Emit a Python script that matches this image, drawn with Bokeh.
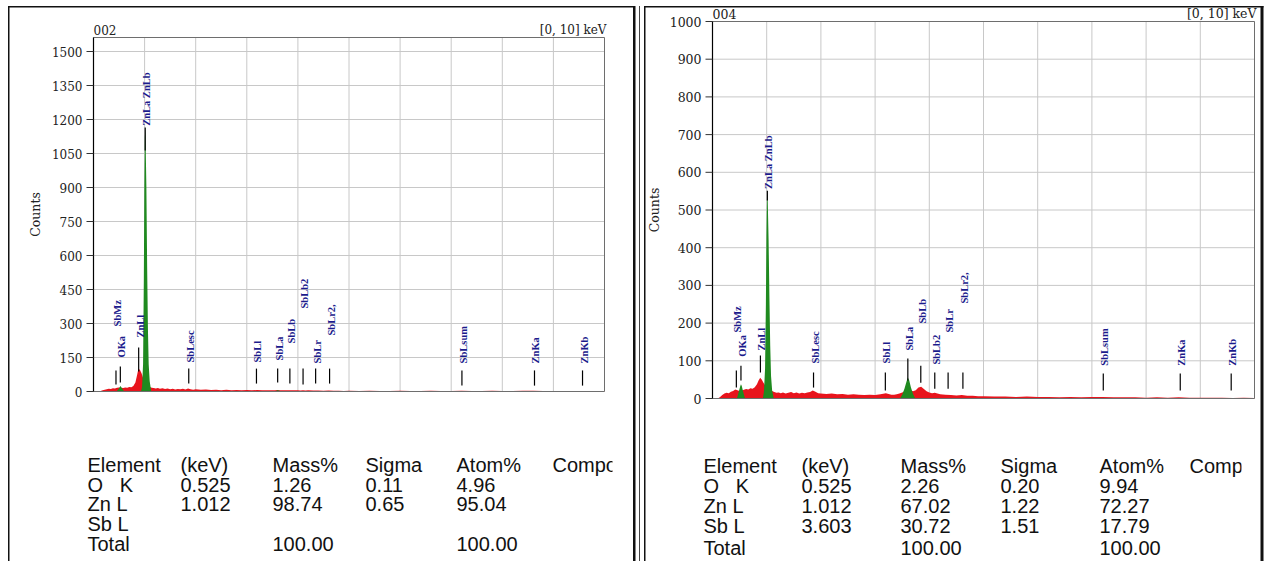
from math import pi

from bokeh.plotting import figure
from bokeh.layouts import row
from bokeh.models import Range1d
from bokeh.core.properties import value
from bokeh.embed import file_html
from bokeh.resources import INLINE

# ---------------------------------------------------------------- spectra
# energy channels (keV) shared by both spectra
energy_kev = [
    0.10, 0.14, 0.18, 0.22, 0.26, 0.30, 0.34, 0.38, 0.42, 0.46,
    0.50, 0.54, 0.58, 0.62, 0.66, 0.70, 0.74, 0.78, 0.82,
    0.85, 0.88, 0.91, 0.94, 0.97, 1.00, 1.03, 1.06,
    1.10, 1.14, 1.18, 1.22, 1.26, 1.30,
    1.35, 1.40, 1.45, 1.50, 1.55, 1.60, 1.65, 1.70, 1.75, 1.80, 1.85, 1.90, 1.95, 2.00,
    2.1, 2.2, 2.3, 2.4, 2.5, 2.6, 2.7, 2.8, 2.9, 3.0, 3.1, 3.2, 3.3,
    3.35, 3.40, 3.45, 3.50, 3.55, 3.60, 3.65, 3.70, 3.75, 3.80, 3.85, 3.90, 3.95,
    4.00, 4.05, 4.10, 4.15, 4.20,
    4.3, 4.4, 4.5, 4.6, 4.7, 4.8, 4.9, 5.0,
    5.2, 5.4, 5.6, 5.8, 6.0, 6.2, 6.4, 6.6, 6.8, 7.0,
    7.2, 7.4, 7.6, 7.8, 8.0, 8.2, 8.4, 8.6, 8.8, 9.0,
    9.2, 9.4, 9.6, 9.8, 10.0,
]

# sample 002: measured counts
counts_002 = [
    0, 2, 5, 8, 10, 12, 11, 14, 13, 16,
    18, 17, 15, 18, 16, 20, 19, 24, 40,
    70, 102, 95, 80, 60, 45, 35, 28,
    20, 16, 15, 13, 15, 12,
    14, 11, 13, 10, 12, 9, 11, 10, 12, 9, 13, 10, 8, 10,
    8, 9, 7, 8, 6, 8, 6, 7, 5, 7, 5, 7, 5,
    6, 5, 6, 5, 6, 7, 6, 6, 5, 6, 6, 5, 5,
    5, 4, 5, 4, 5,
    4, 4, 3, 4, 3, 3, 2, 3,
    2, 3, 2, 2, 3, 2, 2, 3, 2, 2,
    3, 2, 2, 3, 2, 2, 3, 3, 2, 2,
    1, 2, 2, 1, 1,
]

# sample 004: measured counts
counts_004 = [
    0, 4, 9, 13, 15, 14, 18, 20, 24, 22,
    20, 21, 23, 25, 24, 27, 26, 30, 38,
    48, 55, 50, 42, 35, 30, 27, 24,
    20, 17, 15, 16, 14, 16,
    13, 15, 17, 14, 16, 13, 15, 14, 16, 17, 21, 18, 14, 13,
    12, 13, 11, 12, 10, 11, 10, 9, 10, 9, 11, 14, 10,
    10, 11, 13, 16, 20, 24, 22, 19, 22, 29, 31, 25, 19,
    16, 14, 15, 13, 11,
    10, 9, 8, 9, 7, 7, 6, 6,
    5, 5, 4, 5, 4, 4, 3, 4, 3, 4,
    4, 3, 3, 3, 2, 3, 2, 3, 2, 2,
    2, 2, 1, 2, 1,
]

# identified element peaks
ok_energy = [0.45, 0.48, 0.51, 0.525, 0.54, 0.57, 0.60]
zn_energy = [0.93, 0.95, 0.97, 0.985, 0.995, 1.005, 1.012, 1.02,
             1.035, 1.05, 1.065, 1.08, 1.10, 1.13]
ok_peak_002 = [0, 8, 18, 24, 20, 10, 0]
zn_peak_002 = [0, 20, 120, 500, 900, 1120, 1165, 1100, 900, 550, 280, 120, 45, 0]
sb_energy_002 = [3.54, 3.58, 3.604, 3.64, 3.68]
sb_peak_002 = [0, 3, 5, 3, 0]

ok_peak_004 = [0, 15, 32, 38, 33, 15, 0]
zn_peak_004 = [0, 20, 80, 250, 430, 530, 552, 520, 420, 270, 140, 60, 22, 0]
sb_energy_004 = [3.46, 3.50, 3.54, 3.58, 3.604, 3.63, 3.66, 3.70, 3.74]
sb_peak_004 = [0, 10, 25, 45, 56, 48, 30, 12, 0]

# X-ray line markers
line_names = ["SbMz", "OKa", "ZnLl", "ZnLa ZnLb", "SbLesc", "SbLl", "SbLa",
              "SbLb", "SbLb2", "SbLr", "SbLr2,", "SbLsum", "ZnKa", "ZnKb"]
line_energy = [0.44, 0.525, 0.884, 1.012, 1.864, 3.189, 3.604,
               3.843, 4.101, 4.347, 4.62, 7.21, 8.63, 9.57]

# marker stems and label starts, in counts
stem_lo_002 = [31, 40, 88, 1063, 35, 35, 40, 35, 31, 35, 35, 26, 26, 26]
stem_hi_002 = [93, 110, 194, 1165, 101, 101, 101, 101, 101, 101, 101, 93, 93, 93]
label_at_002 = [287, 150, 238, 1172, 128, 128, 137, 212, 366, 124, 247, 124, 124, 124]

stem_lo_004 = [29, 48, 69, 525, 29, 21, 48, 42, 26, 26, 26, 21, 21, 21]
stem_hi_004 = [74, 87, 114, 551, 69, 69, 106, 87, 69, 69, 69, 66, 66, 66]
label_at_004 = [175, 111, 127, 556, 93, 93, 127, 199, 90, 175, 252, 87, 87, 87]

# axes
kev_ticks = [0, 1, 2, 3, 4, 5, 6, 7, 8, 9, 10]
count_ticks_002 = [0, 150, 300, 450, 600, 750, 900, 1050, 1200, 1350, 1500]
count_ticks_004 = [0, 100, 200, 300, 400, 500, 600, 700, 800, 900, 1000]

# quantification tables
table_header = ["Element", "(keV)", "Mass%", "Sigma", "Atom%", "Compo"]
elements = ["O\u00a0\u00a0 K", "Zn L", "Sb L", "Total"]
kev_002 = ["0.525", "1.012", "", ""]
mass_002 = ["1.26", "98.74", "", "100.00"]
sigma_002 = ["0.11", "0.65", "", ""]
atom_002 = ["4.96", "95.04", "", "100.00"]
kev_004 = ["0.525", "1.012", "3.603", ""]
mass_004 = ["2.26", "67.02", "30.72", "100.00"]
sigma_004 = ["0.20", "1.22", "1.51", ""]
atom_004 = ["9.94", "72.27", "17.79", "100.00"]

# ---------------------------------------------------------------- styling
PAGE_H = 561
RED = "#e8141c"
GREEN = "#1f8a1f"
NAVY = "#1b1b8c"
GRID = "#c8c8c8"
FRAME = "#6e6e6e"
INK = "#222222"
SERIF = value("DejaVu Serif")


def panel_figure(x0, x1):
    """A canvas in page-pixel coordinates (y grows downward)."""
    p = figure(width=x1 - x0, height=PAGE_H,
               x_range=Range1d(x0, x1), y_range=Range1d(PAGE_H, 0),
               output_backend="svg", toolbar_location=None, title_location=None,
               x_axis_location=None, y_axis_location=None, min_border=0)
    p.outline_line_color = None
    p.background_fill_color = "white"
    p.border_fill_color = "white"
    for g in p.grid:
        g.visible = False
    return p


def draw_spectrum(p, x0, x1, box, y_ticks, tick_size, counts, peaks,
                  stem_lo, stem_hi, label_at, sample):
    # box: pixel positions of 0 keV, 10 keV, first tick, last tick, frame top
    k0, k10, c_first, c_last, top = box
    px_per_kev = (k10 - k0) / 10.0
    counts_per_px = (y_ticks[-1] - y_ticks[0]) / (c_first - c_last)
    p.extra_x_ranges = {"kev": Range1d((x0 - k0) / px_per_kev, (x1 - k0) / px_per_kev)}
    p.extra_y_ranges = {"counts": Range1d((c_first - PAGE_H) * counts_per_px,
                                          c_first * counts_per_px)}
    y_top = (c_first - top) * counts_per_px
    data = dict(x_range_name="kev", y_range_name="counts")

    # grid
    inner = kev_ticks[1:-1]
    p.segment(x0=inner, y0=0, x1=inner, y1=y_top, line_color=GRID, line_width=1, **data)
    p.segment(x0=0, y0=y_ticks[1:], x1=10, y1=y_ticks[1:], line_color=GRID,
              line_width=1, **data)

    # measured spectrum and identified peaks
    p.varea(x=energy_kev, y1=0, y2=counts, fill_color=RED, **data)
    for e, c in peaks:
        p.varea(x=e, y1=0, y2=c, fill_color=GREEN, **data)

    # frame and y axis
    p.quad(left=0, right=10, bottom=0, top=y_top, fill_color=None,
           line_color=FRAME, line_width=1, **data)
    p.segment(x0=0, y0=0, x1=0, y1=y_top, line_color="black", line_width=1.2, **data)
    p.segment(x0=k0 - 7, y0=y_ticks, x1=k0, y1=y_ticks, line_color="#333333",
              line_width=1, y_range_name="counts")
    p.text(x=k0 - 11, y=y_ticks, text=[str(t) for t in y_ticks],
           text_align="right", text_baseline="middle", text_font=SERIF,
           text_font_size=tick_size, text_color=INK, y_range_name="counts")
    p.text(x=[k0 - 58], y=[(top + c_first) / 2], text=["Counts"], angle=pi / 2,
           text_align="center", text_baseline="middle", text_font=SERIF,
           text_font_size="12.5px", text_color=INK)

    # line markers with labels
    p.segment(x0=line_energy, y0=stem_lo, x1=line_energy, y1=stem_hi,
              line_color="black", line_width=1.2, **data)
    p.text(x=line_energy, y=label_at, text=line_names, angle=pi / 2, x_offset=1.5,
           text_align="left", text_baseline="middle",
           text_font=value("Liberation Serif"), text_font_style="bold",
           text_font_size="10.5px", text_color=NAVY, **data)

    # sample id and energy window above the frame
    p.text(x=[k0, k10 + 2], y=[top - 8, top - 8], text=[sample, "[0, 10] keV"],
           text_align=["left", "right"], text_baseline="middle", text_font=SERIF,
           text_font_size=tick_size, text_color=INK)


def draw_table(p, col_x, row_y, kev, mass, sigma, atom, clip_x, clip_end):
    xs, ys, texts = [], [], []
    for cx, h in zip(col_x, table_header):
        xs.append(cx)
        ys.append(row_y[0])
        texts.append(h)
    cols = [elements, kev, mass, sigma, atom]
    for i, ry in enumerate(row_y[1:]):
        for cx, col in zip(col_x, cols):
            if col[i]:
                xs.append(cx)
                ys.append(ry)
                texts.append(col[i])
    p.text(x=xs, y=ys, text=texts, text_align="left", text_baseline="middle",
           text_font=value("Liberation Sans"), text_font_size="20px", text_color="#111111")
    # the last header column runs past the printable width
    p.quad(left=clip_x, right=clip_end, top=row_y[0] - 14, bottom=row_y[0] + 14,
           fill_color="white", line_color=None)


def draw_border(p, lefts, rights, tops, bottoms, colors):
    p.quad(left=lefts, right=rights, top=tops, bottom=bottoms,
           fill_color=colors, line_color=None)


# ---------------------------------------------------------------- left panel
left = panel_figure(0, 638)
draw_spectrum(left, 0, 638, (93, 604, 391, 51, 37), count_ticks_002, "12px", counts_002,
              [(ok_energy, ok_peak_002), (zn_energy, zn_peak_002),
               (sb_energy_002, sb_peak_002)],
              stem_lo_002, stem_hi_002, label_at_002, "002")
draw_table(left, [87, 180, 272, 365, 456, 552], [464, 484, 503, 523, 543],
           kev_002, mass_002, sigma_002, atom_002, 612, 632)
draw_border(left, [7.5, 7.5, 632.5], [9, 634, 635], [5.5, 5.5, 5.5], [561, 7, 561],
            ["#111111", "#111111", "#111111"])

# ---------------------------------------------------------------- right panel
right = panel_figure(638, 1268)
draw_spectrum(right, 638, 1268, (712, 1254, 398, 21, 21), count_ticks_004, "12.5px",
              counts_004,
              [(ok_energy, ok_peak_004), (zn_energy, zn_peak_004),
               (sb_energy_004, sb_peak_004)],
              stem_lo_004, stem_hi_004, label_at_004, "004")
draw_table(right, [703, 801, 900, 1000, 1099, 1189], [465, 485, 505, 525, 547],
           kev_004, mass_004, sigma_004, atom_004, 1241, 1259)
draw_border(right, [638.5, 643.5, 643.5, 1260], [639.5, 645, 1263, 1263],
            [5.5, 5.5, 5.5, 5.5], [561, 561, 7, 561],
            ["#444444", "#111111", "#111111", "#111111"])

page = row(left, right, spacing=0)
open("out.html", "w").write(file_html(page, INLINE))
